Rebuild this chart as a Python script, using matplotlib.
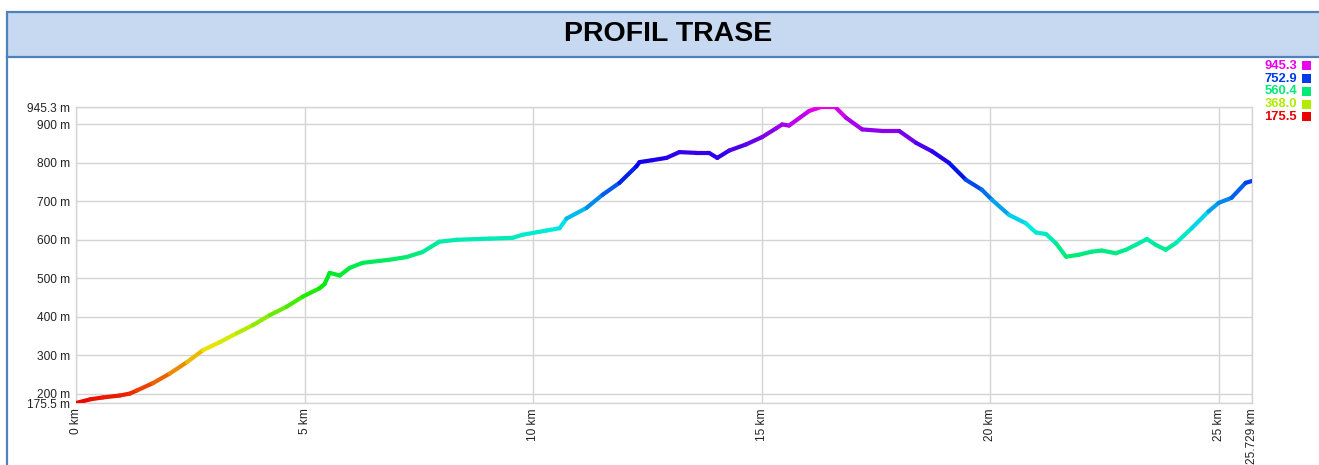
import numpy as np
import matplotlib
matplotlib.use("Agg")
import matplotlib.pyplot as plt
from matplotlib.collections import LineCollection
from matplotlib.colors import hsv_to_rgb
from matplotlib.patches import Rectangle
from matplotlib.lines import Line2D

title = "PROFIL TRASE"
distance_km = [0, 0.31, 0.59, 0.96, 1.18, 1.33, 1.68, 2.05, 2.43, 2.78, 3.15, 3.52, 3.87,
               4.24, 4.61, 4.96, 5.33, 5.44, 5.55, 5.77, 5.99, 6.27, 6.86, 7.23, 7.58,
               7.95, 8.33, 9.05, 9.55, 9.77, 10.29, 10.58, 10.73, 11.17, 11.52, 11.89,
               12.26, 12.33, 12.61, 12.92, 13.2, 13.57, 13.85, 14.03, 14.29, 14.66,
               15.01, 15.32, 15.45, 15.6, 16.04, 16.19, 16.3, 16.61, 16.85, 17.2, 17.64,
               18.01, 18.38, 18.73, 19.1, 19.47, 19.82, 20.04, 20.41, 20.78, 21.0, 21.22,
               21.44, 21.66, 21.94, 22.22, 22.44, 22.75, 22.97, 23.19, 23.43, 23.62,
               23.84, 24.06, 24.41, 24.78, 25.0, 25.28, 25.59, 25.729]
elevation_m = [175.5, 185, 190, 195, 200, 208, 227, 252, 282, 313, 334, 357, 378,
               404, 426, 452, 474, 485, 514, 507, 527, 540, 548, 555, 568,
               595, 600, 603, 605, 613, 624, 630, 655, 683, 717, 748,
               791, 802, 807, 813, 828, 826, 826, 813, 832, 848,
               867, 890, 900, 897, 935, 941, 945.3, 945.3, 917, 887, 883,
               883, 852, 830, 800, 756, 730, 704, 665, 643, 619, 615,
               591, 556, 561, 569, 572, 565, 574, 587, 602, 587,
               574, 591, 630, 674, 696, 709, 748, 752.9]
y_ticks = [175.5, 200, 300, 400, 500, 600, 700, 800, 900, 945.3]
y_tick_labels = ["175.5 m", "200 m", "300 m", "400 m", "500 m", "600 m", "700 m",
                 "800 m", "900 m", "945.3 m"]
x_ticks = [0, 5, 10, 15, 20, 25, 25.729]
x_tick_labels = ["0 km", "5 km", "10 km", "15 km", "20 km", "25 km", "25.729 km"]
legend_values = [945.3, 752.9, 560.4, 368.0, 175.5]

zmin, zmax = 175.5, 945.3


def elev_color(z):
    f = (np.asarray(z) - zmin) / (zmax - zmin)
    h = np.clip(f, 0, 1) * (300.0 / 360.0)
    hsv = np.stack([h, np.ones_like(h), np.full_like(h, 0.92)], axis=-1)
    return hsv_to_rgb(hsv)


W, H = 1319, 465
fig = plt.figure(figsize=(W / 100, H / 100), dpi=100)
fig.patch.set_facecolor("white")

# title band
band = Rectangle((7 / W, 1 - 57 / H), 1.2, 45 / H, transform=fig.transFigure,
                 facecolor="#c6d9f1", edgecolor="#4f81bd", linewidth=1.6)
fig.patches.append(band)
fig.lines.append(Line2D([7 / W, 7 / W], [0, 1 - 57 / H], transform=fig.transFigure,
                        color="#4f81bd", linewidth=1.6))
fig.text(668 / W, 1 - 34 / H, title, ha="center", va="center", fontsize=20.5,
         fontweight="bold", family=["Liberation Sans Narrow", "Liberation Sans", "DejaVu Sans"],
         color="#000000")

ax = fig.add_axes([76 / W, 1 - 403 / H, (1252 - 76) / W, (403 - 107) / H])
ax.set_xlim(0, 25.729)
ax.set_ylim(zmin, zmax)

x = np.asarray(distance_km)
y = np.asarray(elevation_m)
pts = np.column_stack([x, y]).reshape(-1, 1, 2)
segs = np.concatenate([pts[:-1], pts[1:]], axis=1)
mids = (y[:-1] + y[1:]) / 2
lc = LineCollection(segs, colors=elev_color(mids), linewidths=3.0, capstyle="round",
                    joinstyle="round", zorder=3)
ax.add_collection(lc)

ax.set_yticks(y_ticks)
ax.set_yticklabels(y_tick_labels)
ax.set_xticks(x_ticks)
ax.set_xticklabels(x_tick_labels, rotation=90)
ax.tick_params(axis="both", length=0, labelsize=8.6, colors="#222222")
ax.tick_params(axis="y", pad=4)
ax.tick_params(axis="x", pad=4)
for lab in ax.get_xticklabels() + ax.get_yticklabels():
    lab.set_family(["Liberation Sans", "DejaVu Sans"])
ax.grid(True, color="#d4d4d4", linewidth=1.0, zorder=0)
for sp in ax.spines.values():
    sp.set_color("#d4d4d4")
    sp.set_linewidth(1.0)

# legend (colour scale)
for i, v in enumerate(legend_values):
    yy = 1 - (66 + i * 12.7) / H
    c = elev_color([v])[0]
    fig.text(1297 / W, yy, f"{v:.1f}", ha="right", va="center", fontsize=9.4,
             fontweight="bold", color=c, family=["Liberation Sans", "DejaVu Sans"])
    fig.patches.append(Rectangle((1302 / W, yy - 4.5 / H), 9 / W, 9 / H,
                                 transform=fig.transFigure, facecolor=c, edgecolor="none"))

fig.savefig("out.png", dpi=100)
